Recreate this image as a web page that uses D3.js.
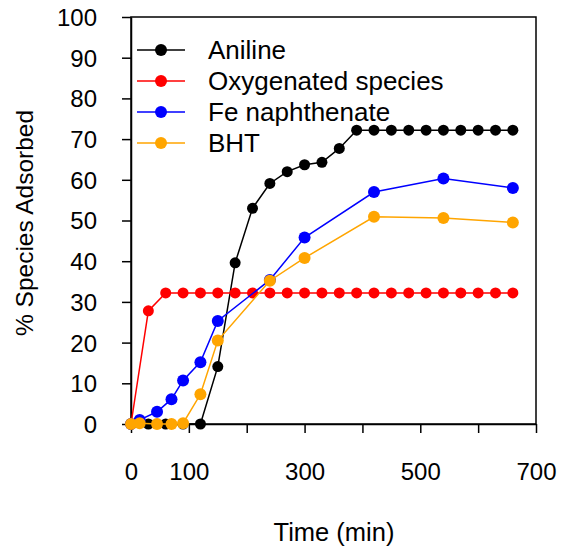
<!DOCTYPE html>
<html>
<head>
<meta charset="utf-8">
<script src="https://cdn.jsdelivr.net/npm/d3@7"></script>
<style>
body { margin: 0; background: #fff; }
text { font-family: "Liberation Sans", Arial, sans-serif; }
</style>
</head>
<body>
<svg id="chart" width="561" height="546"></svg>
<script>
// data
var timeAniline = [0, 30, 60, 90, 120, 150, 180, 210, 240, 270, 300, 330, 360, 390, 420, 450, 480, 510, 540, 570, 600, 630, 660];
var aniline = [0, 0, 0, 0, 0, 14.1, 39.6, 53, 59.1, 62, 63.7, 64.3, 67.7, 72.2, 72.2, 72.2, 72.2, 72.2, 72.2, 72.2, 72.2, 72.2, 72.2];

var timeOxy = [0, 30, 60, 90, 120, 150, 180, 210, 240, 270, 300, 330, 360, 390, 420, 450, 480, 510, 540, 570, 600, 630, 660];
var oxygenated = [0, 27.8, 32.2, 32.2, 32.2, 32.2, 32.2, 32.2, 32.2, 32.2, 32.2, 32.2, 32.2, 32.2, 32.2, 32.2, 32.2, 32.2, 32.2, 32.2, 32.2, 32.2, 32.2];

var timeFe = [0, 15, 45, 70, 90, 120, 150, 240, 300, 420, 540, 660];
var feNaph = [0, 1, 3, 6.1, 10.7, 15.2, 25.3, 35.4, 45.8, 57, 60.3, 58];

var timeBHT = [0, 15, 45, 70, 90, 120, 150, 240, 300, 420, 540, 660];
var bht = [0, 0.2, 0, 0, 0.2, 7.3, 20.5, 35.2, 40.8, 50.9, 50.6, 49.5];

var xTicks = [0, 100, 200, 300, 400, 500, 600, 700];
var xLabels = [0, 100, 300, 500, 700];
var yTicks = [0, 10, 20, 30, 40, 50, 60, 70, 80, 90, 100];

var series = [
	{name: 'Aniline', t: timeAniline, v: aniline, color: 'black', r: 5.5},
	{name: 'Oxygenated species', t: timeOxy, v: oxygenated, color: 'red', r: 5.5},
	{name: 'Fe naphthenate', t: timeFe, v: feNaph, color: 'blue', r: 6},
	{name: 'BHT', t: timeBHT, v: bht, color: 'orange', r: 6}
];

var plot = {left: 131, right: 536, top: 17, bottom: 424};

var x = d3.scaleLinear().domain([0, 700]).range([plot.left, plot.right]);
var y = d3.scaleLinear().domain([0, 100]).range([plot.bottom, plot.top]);

var svg = d3.select('#chart');

// frame
svg.append('rect')
	.attr('x', plot.left).attr('y', plot.top)
	.attr('width', plot.right - plot.left).attr('height', plot.bottom - plot.top)
	.attr('fill', 'none').attr('stroke', 'black').attr('stroke-width', 1.5);

var xAxis = svg.append('g').attr('transform', 'translate(0,' + plot.bottom + ')')
	.call(d3.axisBottom(x).tickValues(xTicks).tickSize(9).tickSizeOuter(0)
		.tickFormat(function(d){ return xLabels.indexOf(d) >= 0 ? d : ''; }));
xAxis.select('.domain').attr('stroke-width', 1.5);
xAxis.selectAll('.tick line').attr('stroke-width', 1.5);
xAxis.selectAll('.tick text').attr('font-size', '24px').attr('dy', 0).attr('y', 56)
	.style('font-family', '"Liberation Sans", Arial, sans-serif');

var yAxis = svg.append('g').attr('transform', 'translate(' + plot.left + ',0)')
	.call(d3.axisLeft(y).tickValues(yTicks).tickSize(9).tickSizeOuter(0));
yAxis.select('.domain').attr('stroke-width', 1.5);
yAxis.selectAll('.tick line').attr('stroke-width', 1.5);
yAxis.selectAll('.tick text').attr('font-size', '24px').attr('x', -34).attr('dy', '0.35em')
	.style('font-family', '"Liberation Sans", Arial, sans-serif');

// titles
svg.append('text')
	.attr('x', 334).attr('y', 541)
	.attr('text-anchor', 'middle').attr('font-size', '25.5px')
	.text('Time (min)');

svg.append('text')
	.attr('transform', 'translate(33,223) rotate(-90)')
	.attr('text-anchor', 'middle').attr('font-size', '24.5px')
	.text('% Species Adsorbed');

var line = d3.line()
	.x(function(d){ return x(d[0]); })
	.y(function(d){ return y(d[1]); });

var groups = svg.selectAll('.series')
	.data(series)
	.enter().append('g').attr('class', 'series');

groups.append('path')
	.attr('d', function(s){ return line(d3.zip(s.t, s.v)); })
	.attr('fill', 'none')
	.attr('stroke', function(s){ return s.color; })
	.attr('stroke-width', 1.5);

groups.each(function(s){
	d3.select(this).selectAll('circle')
		.data(d3.zip(s.t, s.v))
		.enter().append('circle')
		.attr('cx', function(d){ return x(d[0]); })
		.attr('cy', function(d){ return y(d[1]); })
		.attr('r', s.r)
		.attr('fill', s.color);
});

// legend
var legend = svg.selectAll('.legend')
	.data(series)
	.enter().append('g').attr('class', 'legend')
	.attr('transform', function(d, i){ return 'translate(0,' + (50 + i * 31) + ')'; });

legend.append('line')
	.attr('x1', 137).attr('x2', 185).attr('y1', 0).attr('y2', 0)
	.attr('stroke', function(d){ return d.color; }).attr('stroke-width', 1.5);
legend.append('circle')
	.attr('cx', 161).attr('cy', 0).attr('r', 6)
	.attr('fill', function(d){ return d.color; });
legend.append('text')
	.attr('x', 208).attr('y', 9)
	.attr('font-size', '26px')
	.text(function(d){ return d.name; });
</script>
</body>
</html>
